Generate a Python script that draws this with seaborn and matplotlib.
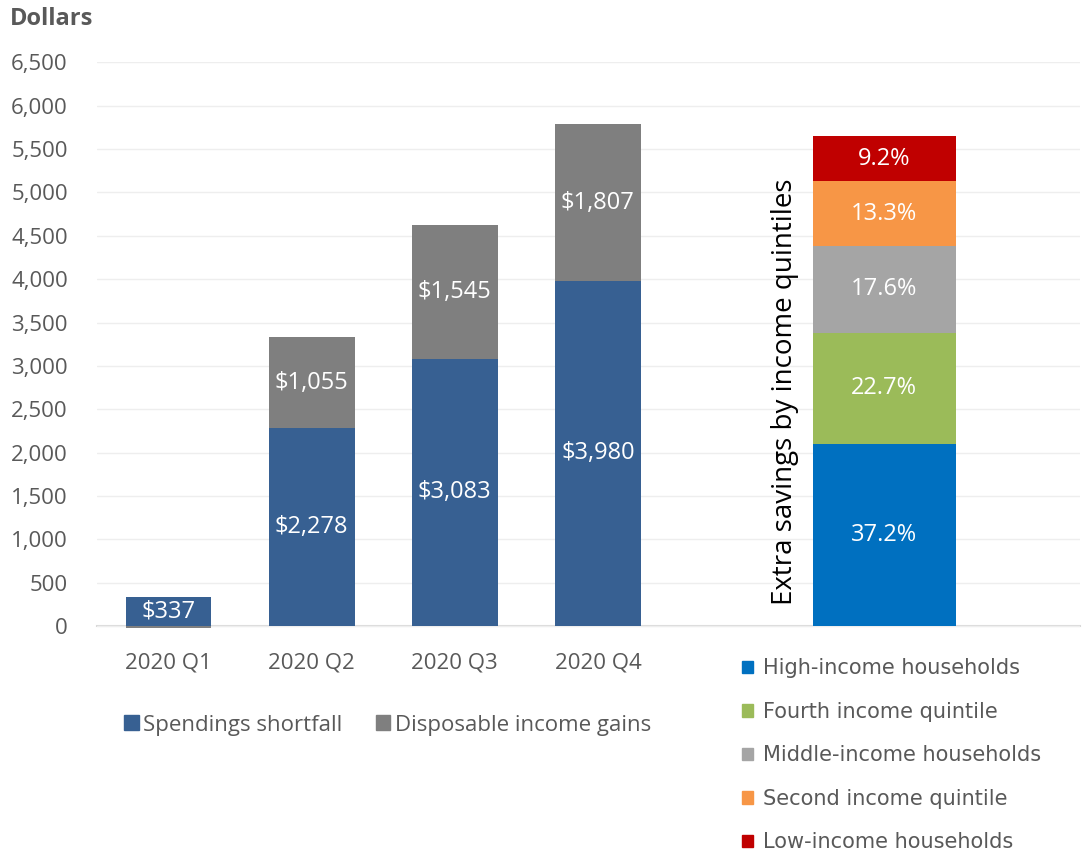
import pandas as pd
import matplotlib.pyplot as plt
import seaborn as sns
from matplotlib.patches import Patch
from matplotlib.ticker import StrMethodFormatter

# quarterly extra savings per household (dollars)
quarters = ["2020 Q1", "2020 Q2", "2020 Q3", "2020 Q4"]
spending_shortfall = [337, 2278, 3083, 3980]
income_gains = [-20, 1055, 1545, 1807]

# share of extra savings by income quintile (bottom to top)
quintiles = ["High-income households", "Fourth income quintile", "Middle-income households",
             "Second income quintile", "Low-income households"]
quintile_share = [37.2, 22.7, 17.6, 13.3, 9.2]
quintile_bar_total = 5650

slot_order = quarters + ["gap", "quintiles"]

blue, grey = "#376092", "#7F7F7F"
quintile_colors = ["#0070C0", "#9BBB59", "#A5A5A5", "#F79646", "#C00000"]
text_grey = "#595959"

sns.set_style("white")
plt.rcParams["font.family"] = ["Open Sans", "DejaVu Sans"]

fig = plt.figure(figsize=(10.89, 8.55), dpi=100)
ax = fig.add_axes([0.089, 0.2648, 0.903, 0.6622])

df = pd.DataFrame({"quarter": quarters, "shortfall": spending_shortfall, "gains": income_gains})
gain_bottom = [s if g >= 0 else 0 for s, g in zip(spending_shortfall, income_gains)]

sns.barplot(data=df, x="quarter", y="shortfall", order=slot_order, color=blue,
            width=0.6, errorbar=None, saturation=1, ax=ax, linewidth=0)
ax.bar_label(ax.containers[-1], labels=[f"${v:,}" for v in spending_shortfall],
             label_type="center", color="white", fontsize=17)

sns.barplot(data=df, x="quarter", y="gains", order=slot_order, color=grey,
            width=0.6, errorbar=None, saturation=1, ax=ax, linewidth=0, bottom=gain_bottom)
ax.bar_label(ax.containers[-1], labels=[f"${v:,}" if v > 0 else "" for v in income_gains],
             label_type="center", color="white", fontsize=17)

# stacked quintile bar
base = 0
for name, share, col in zip(quintiles, quintile_share, quintile_colors):
    h = share / 100 * quintile_bar_total
    seg = pd.DataFrame({"slot": ["quintiles"], "value": [h]})
    sns.barplot(data=seg, x="slot", y="value", order=slot_order, color=col,
                width=1.0, errorbar=None, saturation=1, ax=ax, linewidth=0, bottom=base)
    ax.bar_label(ax.containers[-1], labels=[f"{share}%"], label_type="center",
                 color="white", fontsize=17)
    base += h

ax.text(4.31, 2707, "Extra savings by income quintiles", rotation=90,
        ha="center", va="center", fontsize=20, color="black")

ax.set_xlim(-0.5, 6.37)
ax.set_ylim(-30, 6500)
ax.set_yticks(range(0, 6501, 500))
ax.yaxis.set_major_formatter(StrMethodFormatter("{x:,.0f}"))
ax.set_xticks(range(len(quarters)))
ax.set_xticklabels(quarters)
ax.set_xlabel("")
ax.set_ylabel("")
ax.tick_params(axis="y", length=0, pad=21, labelsize=16, labelcolor=text_grey)
ax.tick_params(axis="x", length=0, pad=19, labelsize=16, labelcolor=text_grey)
ax.grid(axis="y", color="#EEEEEE", linewidth=1)
ax.set_axisbelow(True)
for side in ["top", "right", "left"]:
    ax.spines[side].set_visible(False)
ax.spines["bottom"].set_position(("data", 0))
ax.spines["bottom"].set_color("#D9D9D9")
ax.spines["bottom"].set_linewidth(1.5)
ax.spines["bottom"].set_zorder(0.5)

fig.text(0.009, 0.978, "Dollars", fontsize=17, fontweight="bold", color=text_grey,
         ha="left", va="center")

left_handles = [Patch(color=blue), Patch(color=grey)]
fig.legend(left_handles, ["Spendings shortfall", "Disposable income gains"],
           loc="center", bbox_to_anchor=(0.356, 0.152), ncol=2, frameon=False,
           fontsize=16, handlelength=0.65, handleheight=0.65, handletextpad=0.2,
           columnspacing=1.5, labelcolor=text_grey)

right_handles = [Patch(color=c) for c in quintile_colors]
fig.legend(right_handles, quintiles, loc="upper left", bbox_to_anchor=(0.664, 0.252),
           ncol=1, frameon=False, handlelength=0.55, handleheight=0.55,
           handletextpad=0.45, labelspacing=1.13, labelcolor=text_grey,
           prop={"family": "DejaVu Sans", "size": 15})

fig.savefig("out.png", dpi=100)
